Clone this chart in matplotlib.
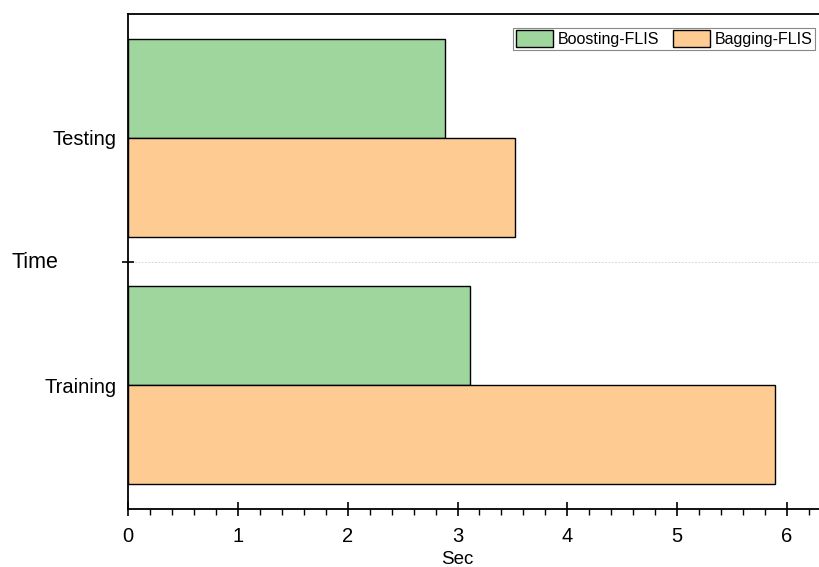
import matplotlib
matplotlib.use("Agg")
import numpy as np
from matplotlib import pyplot as plt
from matplotlib.ticker import MultipleLocator

plt.rcParams["font.family"] = ["Liberation Sans", "DejaVu Sans"]

# data
categories = ["Training", "Testing"]
boosting = [3.11, 2.89]
bagging = [5.89, 3.52]
series_names = ["Boosting-FLIS", "Bagging-FLIS"]
green = "#9ED69E"
orange = "#FECC92"

fig = plt.figure(figsize=(8.2, 5.67), dpi=100)
ax = fig.add_axes([128 / 820, 1 - 509 / 567, 692 / 820, 495 / 567])

y = np.arange(len(categories))
h = 0.4
ax.barh(y + h / 2, boosting, height=h, color=green, edgecolor="black",
        linewidth=1, label=series_names[0], zorder=3)
ax.barh(y - h / 2, bagging, height=h, color=orange, edgecolor="black",
        linewidth=1, label=series_names[1], zorder=3)

ax.set_xlim(0, 6.3)
ax.set_ylim(-0.5, 1.5)

# spines
ax.spines["right"].set_visible(False)
for s in ["left", "top", "bottom"]:
    ax.spines[s].set_linewidth(1.3)

# x ticks
ax.xaxis.set_major_locator(MultipleLocator(1))
ax.xaxis.set_minor_locator(MultipleLocator(0.2))
ax.tick_params(axis="x", which="major", direction="inout", length=10, width=1.2,
               labelsize=14.5, pad=8)
ax.tick_params(axis="x", which="minor", direction="out", length=4, width=1.0)
ax.set_xlabel("Sec", fontsize=13.5)
ax.xaxis.set_label_coords(3 / 6.3, -0.085)

# y ticks: categories without tick marks, one group tick at the middle
ax.set_yticks(y)
ax.set_yticklabels(categories, fontsize=14.5)
ax.tick_params(axis="y", which="major", length=0, pad=8)
ax.set_yticks([0.5], minor=True)
ax.tick_params(axis="y", which="minor", direction="inout", length=8, width=1.2)
ax.axhline(0.5, color="#cccccc", linestyle=(0, (2, 2)), linewidth=0.6, zorder=1)
fig.text(12 / 820, 1 - 263 / 567, "Time", fontsize=15.5, ha="left", va="center")

leg = ax.legend(loc="upper right", bbox_to_anchor=((815 - 128) / 692, (509 - 28) / 495),
                borderaxespad=0, ncol=2, fontsize=11.5, fancybox=False,
                framealpha=1, edgecolor="#888888", handlelength=2.3,
                handleheight=1.25, handletextpad=0.3, columnspacing=0.9,
                borderpad=0.15)
leg.get_frame().set_linewidth(0.8)

fig.savefig("out.png", dpi=100)
